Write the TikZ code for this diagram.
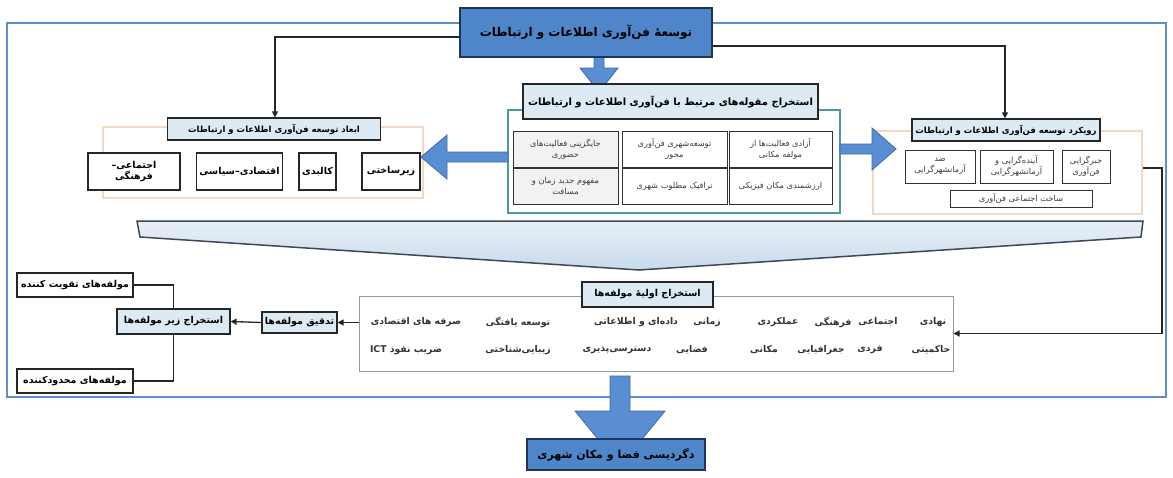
\documentclass[tikz,border=0pt]{standalone}
\usepackage{fontspec}
\usetikzlibrary{arrows.meta,calc}
\TeXXeTstate=1
\newfontfamily\arfont[Script=Arabic]{DejaVu Sans}
\newcommand\Rtl[1]{\beginR #1\endR}
\definecolor{frameblue}{HTML}{5B8FD0}
\definecolor{boxblue}{HTML}{4F86C9}
\definecolor{boxedge}{HTML}{1F3557}
\definecolor{titlefill}{HTML}{DCEAF3}
\definecolor{tealedge}{HTML}{4A9C9C}
\definecolor{peach}{HTML}{F3D8C2}
\definecolor{arrowfill}{HTML}{5A8ED2}
\definecolor{arrowedge}{HTML}{3C6AA8}
\definecolor{compedge}{HTML}{8C9BA8}
\definecolor{funnelA}{HTML}{E8F0F7}
\definecolor{funnelB}{HTML}{C8DAEA}
\definecolor{funneledge}{HTML}{3E4858}
\tikzset{
  mainbox/.style={draw=boxedge, line width=1.6pt, fill=boxblue, inner sep=0pt,
    font=\arfont\bfseries\fontsize{12}{14}\selectfont},
  titlebox/.style={draw=black!85, line width=1.2pt, fill=titlefill, inner sep=0pt,
    font=\arfont\bfseries\fontsize{8.5}{10}\selectfont},
  dimbox/.style={draw=black!85, line width=1.2pt, fill=white, inner sep=0pt, align=center,
    font=\arfont\bfseries\fontsize{9.5}{11}\selectfont},
  subbox/.style={draw=black!85, line width=1.2pt, fill=white, inner sep=0pt,
    font=\arfont\bfseries\fontsize{9.5}{11}\selectfont},
  bluetitle/.style={draw=black!85, line width=1.2pt, fill=titlefill, inner sep=0pt,
    font=\arfont\bfseries\fontsize{9.5}{11}\selectfont},
  smallbox/.style={draw=black!80, line width=1pt, fill=white, inner sep=0pt, align=center,
    text=black!75, font=\arfont\fontsize{8.3}{11}\selectfont},
  groupframe/.style={draw=#1, line width=1.2pt, fill=white, inner sep=0pt},
  compword/.style={inner sep=0pt, text=black!80, font=\arfont\bfseries\fontsize{9.3}{11}\selectfont},
  link/.style={draw=black!85, line width=1.3pt},
  linkarrow/.style={link, -{Triangle[length=6pt,width=6pt]}},
  blockarrow/.style={fill=arrowfill, draw=arrowedge, line width=0.8pt},
}
\begin{document}
\begin{tikzpicture}[x=1pt,y=-1pt]
\useasboundingbox (0,0) rectangle (1173,477);
\fill[white] (0,0) rectangle (1173,477);

% outer frame
\draw[frameblue, line width=2pt] (7,23) rectangle (1166,397);

% group frames
\node[groupframe=peach, minimum width=320, minimum height=71] (lframe) at (263,162.5) {};
\node[groupframe=peach, minimum width=269, minimum height=83] (rframe) at (1007.5,172.5) {};
\node[groupframe=tealedge, minimum width=332, minimum height=103] (mframe) at (674,161.5) {};

% top block arrow
\draw[blockarrow] (594,52) -- (604,52) -- (604,68) -- (618,68) -- (599,92) -- (580,68) -- (594,68) -- cycle;

% top box
\node[mainbox, minimum width=252, minimum height=49] (top) at (586,32.5)
  {\Rtl{توسعهٔ فن‌آوری اطلاعات و ارتباطات}};

% middle title
\node[titlebox, minimum width=295, minimum height=35,
  font=\arfont\bfseries\fontsize{10}{12}\selectfont] (mtitle) at (670.5,101.5)
  {\Rtl{استخراج مقوله‌های مرتبط با فن‌آوری اطلاعات و ارتباطات}};

% middle grid
\node[smallbox, minimum width=103, minimum height=36] (g11) at (780.5,149)
  {\Rtl{آزادی فعالیت‌ها از}\\\Rtl{مولفه مکانی}};
\node[smallbox, minimum width=105, minimum height=36] (g12) at (674.5,149)
  {\Rtl{توسعه‌شهری فن‌آوری}\\\Rtl{محور}};
\node[smallbox, minimum width=105, minimum height=36, fill=black!5] (g13) at (565.5,149)
  {\Rtl{جایگزینی فعالیت‌های}\\\Rtl{حضوری}};
\node[smallbox, minimum width=103, minimum height=36] (g21) at (780.5,186)
  {\Rtl{ارزشمندی مکان فیزیکی}};
\node[smallbox, minimum width=105, minimum height=36] (g22) at (674.5,186)
  {\Rtl{ترافیک مطلوب شهری}};
\node[smallbox, minimum width=105, minimum height=36, fill=black!5] (g23) at (565.5,186)
  {\Rtl{مفهوم جدید زمان و}\\\Rtl{مسافت}};

% left group
\node[titlebox, minimum width=213, minimum height=22] (ltitle) at (274,129)
  {\Rtl{ابعاد توسعه فن‌آوری اطلاعات و ارتباطات}};
\node[dimbox, minimum width=58, minimum height=37] (d1) at (391,171.5) {\Rtl{زیرساختی}};
\node[dimbox, minimum width=37, minimum height=37] (d2) at (317.5,171.5) {\Rtl{کالبدی}};
\node[dimbox, minimum width=86, minimum height=37] (d3) at (239.5,171.5) {\Rtl{اقتصادی\kern0pt–\kern0pt سیاسی}};
\node[dimbox, minimum width=92, minimum height=37] (d4) at (134,171.5) {\Rtl{اجتماعی\kern0pt–}\\\Rtl{فرهنگی}};

% right group
\node[titlebox, minimum width=188, minimum height=22] (rtitle) at (1006,130)
  {\Rtl{رویکرد توسعه فن‌آوری اطلاعات و ارتباطات}};
\node[smallbox, minimum width=48, minimum height=33] (r1) at (1086,166.5)
  {\Rtl{جبرگرایی}\\\Rtl{فن‌آوری}};
\node[smallbox, minimum width=73, minimum height=33] (r2) at (1016.5,166.5)
  {\Rtl{آینده‌گرایی و}\\\Rtl{آرمانشهرگرایی}};
\node[smallbox, minimum width=70, minimum height=33] (r3) at (940,166.5)
  {\Rtl{ضد}\\\Rtl{آرمانشهرگرایی}};
\node[smallbox, minimum width=142, minimum height=17] (r4) at (1021,198.5)
  {\Rtl{ساخت اجتماعی فن‌آوری}};

% side block arrows
\draw[blockarrow] (508,152) -- (447,152) -- (447,135) -- (421,157) -- (447,179) -- (447,162) -- (508,162) -- cycle;
\draw[blockarrow] (840,144) -- (872,144) -- (872,128) -- (896,149) -- (872,170) -- (872,154) -- (840,154) -- cycle;

% connectors from top box
\coordinate (lcorner) at (275,37);
\coordinate (rcorner) at (1005,46);
\draw[linkarrow] (top.west |- lcorner) -- (lcorner) -- (ltitle.north -| lcorner);
\draw[linkarrow] (top.east |- rcorner) -- (rcorner) -- (rtitle.north -| rcorner);

% funnel
\draw[funneledge, line width=1.5pt, top color=funnelA, bottom color=funnelB]
  (137,221) -- (1143,221) -- (1141,237) -- (639,270) -- (140,237) -- cycle;

% components box
\node[draw=compedge, line width=1pt, fill=white, minimum width=594, minimum height=75, inner sep=0pt]
  (comp) at (656,333.5) {};
\node[bluetitle, minimum width=131, minimum height=25] (ctitle) at (647.5,294.5)
  {\Rtl{استخراج اولیهٔ مولفه‌ها}};
\foreach \x/\t in {933/نهادی, 878/اجتماعی, 833/فرهنگی, 778/عملکردی, 707/زمانی,
                   636/داده‌ای و اطلاعاتی, 518/توسعه یافتگی, 416/صرفه های اقتصادی}
  \node[compword] at (\x,322) {\Rtl{\t}};
\foreach \x/\t in {931/حاکمیتی, 870/فردی, 821/جغرافیایی, 764/مکانی, 692/فضایی,
                   617/دسترسی‌پذیری, 518/زیبایی‌شناختی, 406/ضریب نفوذ ICT}
  \node[compword] at (\x,350) {\Rtl{\t}};

% left chain
\node[bluetitle, minimum width=75, minimum height=21] (tdq) at (299.5,322.5) {\Rtl{تدقیق مولفه‌ها}};
\node[bluetitle, minimum width=113, minimum height=25] (sub) at (173.5,321.5) {\Rtl{استخراج زیر مولفه‌ها}};
\node[subbox, minimum width=116, minimum height=24] (tq) at (75,285) {\Rtl{مولفه‌های تقویت کننده}};
\node[subbox, minimum width=116, minimum height=24] (md) at (75,381) {\Rtl{مولفه‌های محدودکننده}};
\draw[linkarrow] (comp.west |- tdq.east) -- (tdq.east);
\draw[linkarrow] (tdq.west) -- (sub.east);
\draw[link] (tq.east) -| (sub.north);
\draw[link] (md.east) -| (sub.south);

% connector right group -> components
\coordinate (rc) at (1162,168);
\draw[linkarrow] (rframe.east |- rc) -- (rc) |- (comp.east);

% bottom block arrow and box
\draw[blockarrow] (610,376) -- (630,376) -- (630,411) -- (665,411) -- (620,466) -- (575,411) -- (610,411) -- cycle;
\node[mainbox, minimum width=178, minimum height=31, font=\arfont\bfseries\fontsize{11}{13}\selectfont]
  (bottom) at (616,454.5) {\Rtl{دگردیسی فضا و مکان شهری}};
\end{tikzpicture}
\end{document}
